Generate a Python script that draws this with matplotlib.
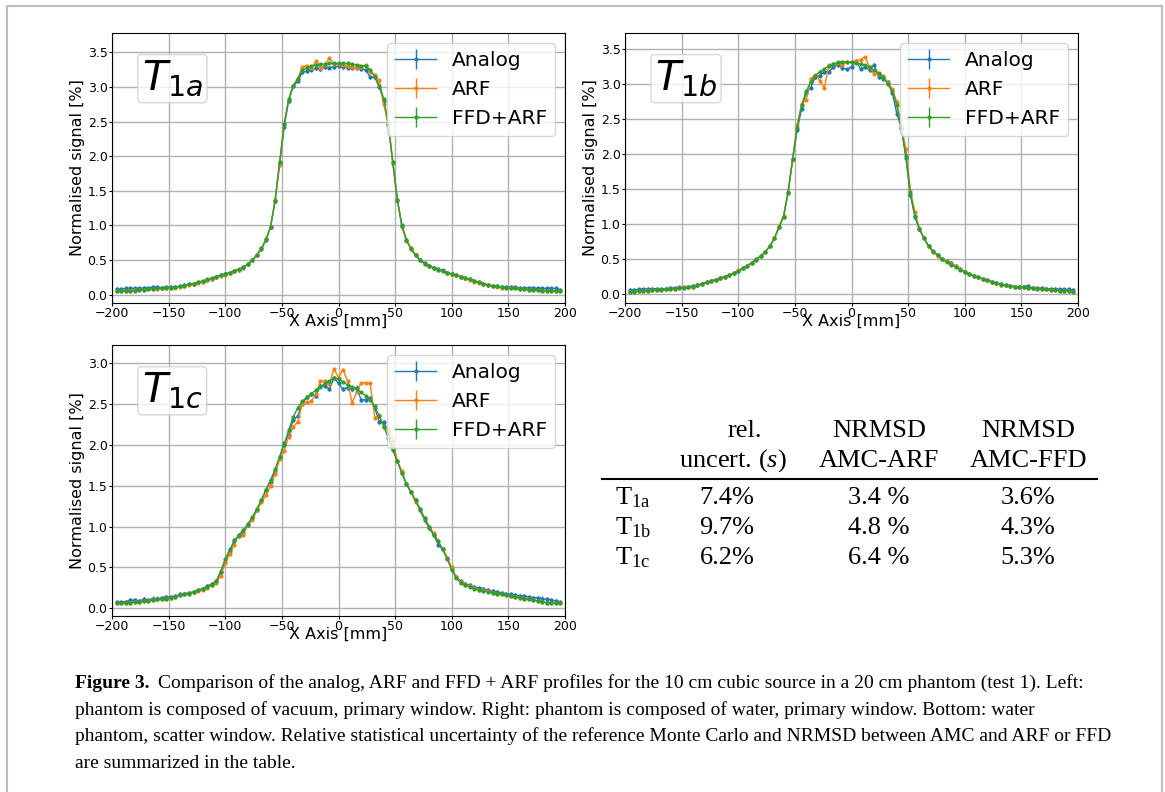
import numpy as np
import matplotlib
matplotlib.use('Agg')
import matplotlib.pyplot as plt
from matplotlib.lines import Line2D
from matplotlib.patches import Rectangle

W, H = 1165, 792

# sample positions along the profile [mm]
x_mm = np.arange(-196, 197, 4)

# ---- T1a : vacuum, primary window
t1a_analog = [0.08, 0.08, 0.09, 0.09, 0.09, 0.09, 0.10, 0.10, 0.11, 0.11,
              0.10, 0.11, 0.11, 0.11, 0.12, 0.14, 0.15, 0.16, 0.18, 0.19,
              0.21, 0.23, 0.26, 0.28, 0.30, 0.32, 0.34, 0.36, 0.39, 0.44,
              0.50, 0.57, 0.66, 0.79, 0.98, 1.35, 1.90, 2.42, 2.80, 3.01,
              3.08, 3.21, 3.23, 3.25, 3.27, 3.26, 3.29, 3.28, 3.29, 3.30,
              3.29, 3.28, 3.28, 3.27, 3.26, 3.25, 3.14, 3.14, 3.00, 2.80,
              2.45, 1.90, 1.37, 1.00, 0.79, 0.66, 0.57, 0.50, 0.46, 0.42,
              0.39, 0.37, 0.35, 0.32, 0.30, 0.28, 0.26, 0.24, 0.22, 0.20,
              0.18, 0.16, 0.14, 0.13, 0.12, 0.11, 0.11, 0.11, 0.11, 0.10,
              0.10, 0.10, 0.10, 0.09, 0.09, 0.09, 0.09, 0.09, 0.07]
t1a_arf = [0.05, 0.05, 0.06, 0.06, 0.07, 0.07, 0.07, 0.08, 0.08, 0.08,
           0.09, 0.09, 0.10, 0.10, 0.11, 0.13, 0.14, 0.16, 0.17, 0.19,
           0.21, 0.23, 0.25, 0.27, 0.29, 0.31, 0.34, 0.36, 0.40, 0.44,
           0.50, 0.57, 0.67, 0.80, 0.98, 1.37, 1.87, 2.46, 2.82, 3.02,
           3.12, 3.29, 3.31, 3.28, 3.37, 3.27, 3.32, 3.42, 3.33, 3.33,
           3.32, 3.30, 3.29, 3.28, 3.29, 3.32, 3.22, 3.17, 3.10, 2.75,
           2.45, 1.90, 1.36, 0.98, 0.78, 0.66, 0.57, 0.50, 0.45, 0.41,
           0.38, 0.36, 0.34, 0.32, 0.30, 0.28, 0.26, 0.24, 0.21, 0.19,
           0.17, 0.15, 0.14, 0.12, 0.11, 0.10, 0.10, 0.09, 0.09, 0.08,
           0.08, 0.07, 0.07, 0.07, 0.06, 0.06, 0.06, 0.05, 0.05]
t1a_ffd = [0.05, 0.05, 0.06, 0.06, 0.06, 0.07, 0.07, 0.08, 0.08, 0.09,
           0.09, 0.10, 0.10, 0.11, 0.12, 0.13, 0.15, 0.16, 0.18, 0.20,
           0.22, 0.24, 0.26, 0.28, 0.30, 0.32, 0.34, 0.37, 0.40, 0.44,
           0.50, 0.58, 0.67, 0.80, 0.98, 1.36, 1.91, 2.47, 2.82, 3.02,
           3.12, 3.24, 3.28, 3.30, 3.32, 3.33, 3.33, 3.34, 3.34, 3.34,
           3.34, 3.34, 3.33, 3.32, 3.31, 3.30, 3.25, 3.15, 3.02, 2.83,
           2.47, 1.91, 1.37, 0.99, 0.79, 0.67, 0.58, 0.50, 0.45, 0.41,
           0.38, 0.36, 0.34, 0.32, 0.30, 0.28, 0.26, 0.24, 0.22, 0.20,
           0.18, 0.16, 0.14, 0.13, 0.12, 0.11, 0.10, 0.09, 0.09, 0.08,
           0.08, 0.07, 0.07, 0.07, 0.06, 0.06, 0.06, 0.05, 0.05]

# ---- T1b : water, primary window
t1b_analog = [0.06, 0.06, 0.07, 0.07, 0.08, 0.08, 0.08, 0.08, 0.08, 0.09,
              0.09, 0.10, 0.10, 0.11, 0.12, 0.13, 0.15, 0.17, 0.19, 0.21,
              0.23, 0.25, 0.27, 0.30, 0.33, 0.37, 0.41, 0.44, 0.49, 0.55,
              0.61, 0.69, 0.80, 0.96, 1.11, 1.46, 1.93, 2.35, 2.65, 2.88,
              2.95, 3.10, 3.12, 3.17, 3.18, 3.24, 3.28, 3.23, 3.21, 3.25,
              3.33, 3.22, 3.24, 3.20, 3.28, 3.10, 3.08, 3.03, 2.88, 2.58,
              2.38, 1.95, 1.42, 1.10, 0.93, 0.80, 0.69, 0.61, 0.56, 0.50,
              0.47, 0.45, 0.40, 0.36, 0.32, 0.29, 0.26, 0.24, 0.22, 0.20,
              0.18, 0.16, 0.15, 0.13, 0.12, 0.11, 0.11, 0.11, 0.12, 0.09,
              0.09, 0.09, 0.08, 0.08, 0.08, 0.07, 0.07, 0.07, 0.06]
t1b_arf = [0.04, 0.04, 0.05, 0.05, 0.05, 0.06, 0.06, 0.06, 0.07, 0.07,
           0.08, 0.09, 0.10, 0.10, 0.11, 0.13, 0.15, 0.17, 0.19, 0.21,
           0.23, 0.25, 0.27, 0.30, 0.34, 0.37, 0.41, 0.45, 0.50, 0.55,
           0.61, 0.69, 0.80, 0.97, 1.12, 1.45, 1.92, 2.42, 2.72, 2.78,
           3.08, 3.13, 3.05, 2.95, 3.27, 3.29, 3.30, 3.28, 3.31, 3.32,
           3.33, 3.35, 3.39, 3.24, 3.14, 3.15, 3.12, 3.02, 2.93, 2.75,
           2.40, 2.08, 1.48, 1.17, 0.94, 0.80, 0.69, 0.61, 0.55, 0.50,
           0.47, 0.43, 0.40, 0.36, 0.32, 0.29, 0.26, 0.24, 0.22, 0.20,
           0.18, 0.16, 0.14, 0.13, 0.12, 0.11, 0.10, 0.10, 0.09, 0.09,
           0.08, 0.07, 0.07, 0.06, 0.06, 0.05, 0.05, 0.05, 0.04]
t1b_ffd = [0.04, 0.04, 0.05, 0.05, 0.05, 0.06, 0.06, 0.06, 0.07, 0.07,
           0.08, 0.09, 0.09, 0.10, 0.11, 0.13, 0.15, 0.17, 0.19, 0.21,
           0.23, 0.25, 0.27, 0.30, 0.33, 0.37, 0.41, 0.45, 0.50, 0.55,
           0.61, 0.69, 0.80, 0.96, 1.11, 1.45, 1.93, 2.38, 2.70, 2.90,
           3.03, 3.12, 3.18, 3.22, 3.26, 3.29, 3.31, 3.32, 3.32, 3.31,
           3.30, 3.29, 3.27, 3.24, 3.20, 3.16, 3.10, 3.00, 2.90, 2.70,
           2.38, 1.98, 1.45, 1.12, 0.93, 0.80, 0.69, 0.62, 0.56, 0.50,
           0.46, 0.42, 0.39, 0.35, 0.32, 0.29, 0.26, 0.24, 0.22, 0.20,
           0.18, 0.16, 0.14, 0.13, 0.12, 0.11, 0.10, 0.10, 0.09, 0.09,
           0.08, 0.07, 0.07, 0.06, 0.06, 0.05, 0.05, 0.05, 0.04]

# ---- T1c : water, scatter window
t1c_analog = [0.08, 0.08, 0.08, 0.10, 0.10, 0.09, 0.11, 0.10, 0.12, 0.12,
              0.13, 0.14, 0.14, 0.15, 0.17, 0.18, 0.19, 0.20, 0.22, 0.24,
              0.27, 0.30, 0.33, 0.45, 0.57, 0.70, 0.83, 0.88, 0.92, 1.02,
              1.10, 1.20, 1.32, 1.45, 1.55, 1.68, 1.85, 2.02, 2.12, 2.30,
              2.35, 2.50, 2.58, 2.62, 2.60, 2.72, 2.72, 2.68, 2.82, 2.75,
              2.68, 2.70, 2.68, 2.70, 2.55, 2.55, 2.57, 2.45, 2.28, 2.28,
              2.15, 1.95, 1.80, 1.65, 1.52, 1.42, 1.32, 1.20, 1.08, 0.98,
              0.90, 0.78, 0.72, 0.62, 0.48, 0.38, 0.33, 0.30, 0.28, 0.26,
              0.25, 0.24, 0.22, 0.21, 0.20, 0.19, 0.18, 0.17, 0.16, 0.15,
              0.15, 0.14, 0.13, 0.13, 0.12, 0.11, 0.10, 0.09, 0.08]
t1c_arf = [0.06, 0.06, 0.07, 0.07, 0.08, 0.08, 0.09, 0.09, 0.10, 0.11,
           0.11, 0.12, 0.13, 0.14, 0.16, 0.17, 0.18, 0.20, 0.21, 0.23,
           0.25, 0.28, 0.31, 0.40, 0.55, 0.67, 0.78, 0.90, 0.90, 1.03,
           1.08, 1.20, 1.30, 1.38, 1.50, 1.64, 1.82, 1.92, 2.10, 2.22,
           2.28, 2.50, 2.52, 2.53, 2.62, 2.78, 2.78, 2.74, 2.93, 2.82,
           2.92, 2.78, 2.51, 2.64, 2.76, 2.75, 2.75, 2.33, 2.36, 2.22,
           2.18, 2.05, 1.80, 1.68, 1.52, 1.42, 1.30, 1.22, 1.10, 1.00,
           0.92, 0.82, 0.72, 0.62, 0.50, 0.38, 0.32, 0.29, 0.27, 0.25,
           0.23, 0.22, 0.21, 0.19, 0.18, 0.17, 0.16, 0.15, 0.14, 0.13,
           0.12, 0.11, 0.10, 0.09, 0.08, 0.07, 0.07, 0.06, 0.06]
t1c_ffd = [0.06, 0.06, 0.07, 0.07, 0.08, 0.08, 0.09, 0.09, 0.10, 0.11,
           0.11, 0.12, 0.13, 0.14, 0.16, 0.17, 0.18, 0.20, 0.22, 0.24,
           0.26, 0.29, 0.33, 0.45, 0.60, 0.72, 0.82, 0.90, 0.96, 1.03,
           1.12, 1.22, 1.33, 1.45, 1.57, 1.70, 1.85, 2.00, 2.18, 2.34,
           2.45, 2.53, 2.58, 2.62, 2.67, 2.71, 2.75, 2.78, 2.82, 2.80,
           2.77, 2.73, 2.71, 2.68, 2.64, 2.60, 2.55, 2.47, 2.35, 2.22,
           2.08, 1.93, 1.80, 1.65, 1.52, 1.42, 1.32, 1.22, 1.10, 1.00,
           0.90, 0.82, 0.72, 0.60, 0.47, 0.37, 0.31, 0.28, 0.26, 0.24,
           0.22, 0.21, 0.20, 0.19, 0.18, 0.17, 0.16, 0.15, 0.14, 0.13,
           0.12, 0.11, 0.10, 0.09, 0.08, 0.07, 0.07, 0.06, 0.06]

# statistical error bars (approx. half-length)
err_analog = 0.025
err_arf = 0.012
err_ffd = 0.01

series_names = ['Analog', 'ARF', 'FFD+ARF']
panel_tags = ['$T_{1a}$', '$T_{1b}$', '$T_{1c}$']

# table
table_rows = ['1a', '1b', '1c']
rel_uncert = ['7.4%', '9.7%', '6.2%']
nrmsd_arf = ['3.4 %', '4.8 %', '6.4 %']
nrmsd_ffd = ['3.6%', '4.3%', '5.3%']

caption_bold = 'Figure 3.'
caption_lines = [
    'Comparison of the analog, ARF and FFD + ARF profiles for the 10 cm cubic source in a 20 cm phantom (test 1). Left:',
    'phantom is composed of vacuum, primary window. Right: phantom is composed of water, primary window. Bottom: water',
    'phantom, scatter window. Relative statistical uncertainty of the reference Monte Carlo and NRMSD between AMC and ARF or FFD',
    'are summarized in the table.',
]

plt.rcParams['mathtext.fontset'] = 'dejavusans'
plt.rcParams['mathtext.rm'] = 'Liberation Serif'
plt.rcParams['mathtext.it'] = 'Liberation Serif:italic'

fig = plt.figure(figsize=(W / 100, H / 100), dpi=100)


def px(x, y):
    # pixel position (from top-left) -> figure fraction
    return x / W, 1 - y / H


def profile_panel(rect, analog, arf, ffd, tag, ylim, yticks):
    ax = fig.add_axes(rect)
    ax.errorbar(x_mm, analog, yerr=err_analog, fmt='.-', color='tab:blue', ms=4, lw=1, elinewidth=1, label=series_names[0])
    ax.errorbar(x_mm, arf, yerr=err_arf, fmt='.-', color='tab:orange', ms=4, lw=1, elinewidth=1, label=series_names[1])
    ax.errorbar(x_mm, ffd, yerr=err_ffd, fmt='.-', color='tab:green', ms=4, lw=1, elinewidth=1, label=series_names[2])
    ax.set_xlim(-200, 200)
    ax.set_ylim(*ylim)
    ax.set_xticks(np.arange(-200, 201, 50))
    ax.set_yticks(yticks)
    ax.tick_params(labelsize=9, length=2, pad=1.2)
    ax.grid(True, color='#b0b0b0', lw=1)
    ax.set_axisbelow(True)
    ax.set_xlabel('X Axis [mm]', fontsize=11.5, labelpad=-4.5)
    ax.set_ylabel('Normalised signal [%]', fontsize=11.5, labelpad=1.5)
    ax.legend(loc='upper right', fontsize=14.5, framealpha=0.8)
    ax.text(0.066, 0.905, tag, transform=ax.transAxes, fontsize=29.5, va='top', ha='left',
            bbox=dict(boxstyle='round,pad=0.1', fc='white', ec='#cccccc', alpha=0.8))
    return ax


profile_panel([112 / W, 1 - 303 / H, 453 / W, 270 / H], t1a_analog, t1a_arf, t1a_ffd,
              panel_tags[0], (-0.12, 3.78), np.arange(0, 3.6, 0.5))
profile_panel([625 / W, 1 - 303 / H, 453 / W, 270 / H], t1b_analog, t1b_arf, t1b_ffd,
              panel_tags[1], (-0.124, 3.73), np.arange(0, 3.6, 0.5))
profile_panel([112 / W, 1 - 616 / H, 453 / W, 271 / H], t1c_analog, t1c_arf, t1c_ffd,
              panel_tags[2], (-0.094, 3.22), np.arange(0, 3.1, 0.5))

# ---- table of uncertainties
tkw = dict(family='Liberation Serif', fontsize=19, va='center', math_fontfamily='custom')
fig.text(*px(745, 431), 'rel.', ha='center', **tkw)
fig.text(*px(733, 461), 'uncert. ($s$)', ha='center', **tkw)
fig.text(*px(879, 431), 'NRMSD', ha='center', **tkw)
fig.text(*px(879, 461), 'AMC-ARF', ha='center', **tkw)
fig.text(*px(1028, 431), 'NRMSD', ha='center', **tkw)
fig.text(*px(1028, 461), 'AMC-FFD', ha='center', **tkw)
fig.add_artist(Line2D([602 / W, 1097 / W], [1 - 479 / H, 1 - 479 / H], color='black', lw=1.5))
row_y = [498, 528, 558]
for i in range(3):
    fig.text(*px(615, row_y[i]), r'T$_{\mathrm{%s}}$' % table_rows[i], ha='left', **tkw)
    fig.text(*px(727, row_y[i]), rel_uncert[i], ha='center', **tkw)
    fig.text(*px(879, row_y[i]), nrmsd_arf[i], ha='center', **tkw)
    fig.text(*px(1028, row_y[i]), nrmsd_ffd[i], ha='center', **tkw)

# ---- caption
ckw = dict(family='Liberation Serif', fontsize=14, va='center', ha='left')
renderer = fig.canvas.get_renderer()
tb = fig.text(*px(75, 683), caption_bold, fontweight='bold', **ckw)
bw = tb.get_window_extent(renderer).width
fig.text((75 + bw + 9) / W, 1 - 683 / H, caption_lines[0], **ckw)
line_y = [683, 710, 736, 763]
for ln, yy in zip(caption_lines[1:], line_y[1:]):
    fig.text(*px(75, yy), ln, **ckw)

# page frame
fig.add_artist(Rectangle((7 / W, -0.05), 1155 / W, 1.05 - 6 / H, transform=fig.transFigure,
                         fill=False, ec='#bdbdbd', lw=1.5))

fig.savefig('out.png', dpi=100)
